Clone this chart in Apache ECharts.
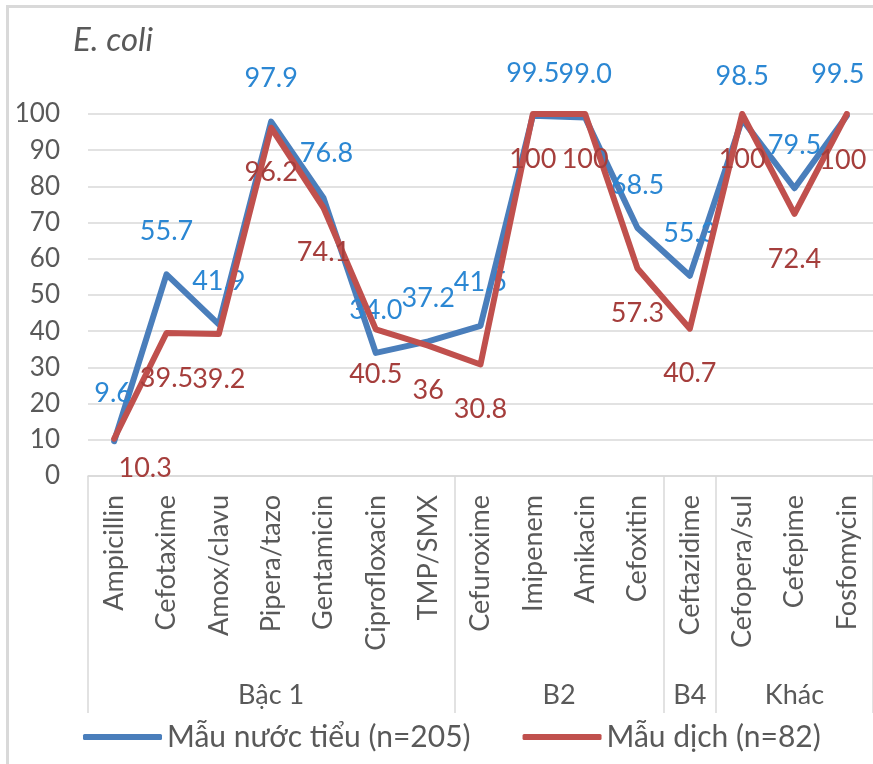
<!DOCTYPE html>
<html>
<head>
<meta charset="utf-8">
<script src="https://cdn.jsdelivr.net/npm/echarts@6/dist/echarts.min.js"></script>
<style>
  html, body { margin: 0; padding: 0; background: #fff; }
  #chart { width: 873px; height: 764px; }
</style>
</head>
<body>
<div id="chart"></div>
<script>
// Antibiotic susceptibility of E. coli (%), two specimen groups
const antibiotics = ['Ampicillin', 'Cefotaxime', 'Amox/clavu', 'Pipera/tazo', 'Gentamicin',
  'Ciprofloxacin', 'TMP/SMX', 'Cefuroxime', 'Imipenem', 'Amikacin', 'Cefoxitin',
  'Ceftazidime', 'Cefopera/sul', 'Cefepime', 'Fosfomycin'];
const urineValues = [9.6, 55.7, 41.9, 97.9, 76.8, 34.0, 37.2, 41.5, 99.5, 99.0, 68.5, 55.3, 98.5, 79.5, 99.5];
const fluidValues = [10.3, 39.5, 39.2, 96.2, 74.1, 40.5, 36, 30.8, 100, 100, 57.3, 40.7, 100, 72.4, 100];
const groupNames = ['Bậc 1', 'B2', 'B4', 'Khác'];
const groupSizes = [7, 4, 1, 3];
const seriesNames = ['Mẫu nước tiểu (n=205)', 'Mẫu dịch (n=82)'];
const yTicks = [0, 10, 20, 30, 40, 50, 60, 70, 80, 90, 100];

const FONT = 'Lato, "Open Sans", sans-serif';
const GREY = '#595959';
const GRID_LINE = '#d9d9d9';

// group boundaries and centres on a 0..N scale (one unit per antibiotic)
const bounds = [0];
groupSizes.forEach(n => bounds.push(bounds[bounds.length - 1] + n));
const centres = groupNames.map((_, i) => (bounds[i] + bounds[i + 1]) / 2);

// label placement: blue above, red below, a few nudged
const urineOffsets = { 0: [-1, -48], 4: [3, -45], 14: [-9, -42] };
const fluidOffsets = { 0: [31, 30], 14: [-4, 46] };

function buildData(values, offsets, defaultOffset) {
  return values.map((v, i) => ({
    value: v,
    label: { offset: offsets[i] || defaultOffset }
  }));
}

const chart = echarts.init(document.getElementById('chart'));
chart.setOption({
  animation: false,
  backgroundColor: '#fff',
  title: {
    text: 'E. coli',
    left: 68, top: 19,
    textStyle: { fontFamily: FONT, fontSize: 33, fontStyle: 'italic', fontWeight: 'normal', color: GREY }
  },
  graphic: [{
    type: 'rect', silent: true, z: -1,
    shape: { x: 7.5, y: 6.5, width: 900, height: 800 },
    style: { fill: 'none', stroke: GRID_LINE, lineWidth: 3 }
  }],
  legend: {
    left: 78, top: 717,
    icon: 'roundRect',
    itemWidth: 79, itemHeight: 6, itemGap: 52,
    textStyle: { fontFamily: FONT, fontSize: 30, color: GREY },
    data: seriesNames
  },
  grid: { left: 88, top: 114, width: 787, height: 362, containLabel: false },
  xAxis: [{
    type: 'category',
    data: antibiotics,
    boundaryGap: true,
    axisLine: { lineStyle: { color: GRID_LINE, width: 1.5 } },
    axisTick: { show: false },
    axisLabel: { interval: 0, rotate: 90, margin: 19, fontFamily: FONT, fontSize: 27, color: GREY }
  }, {
    type: 'value',
    min: 0, max: antibiotics.length,
    position: 'bottom',
    axisLine: { show: false },
    splitLine: { show: false },
    axisTick: { show: true, customValues: bounds, length: 237, lineStyle: { color: GRID_LINE, width: 1.5 } },
    axisLabel: {
      customValues: centres, margin: 206,
      fontFamily: FONT, fontSize: 27, color: GREY,
      formatter: v => groupNames[centres.indexOf(v)] || ''
    }
  }],
  yAxis: {
    type: 'value',
    min: 0, max: 100, interval: 10,
    axisLine: { show: false },
    axisTick: { show: false },
    splitLine: { lineStyle: { color: GRID_LINE, width: 1.5 } },
    axisLabel: {
      margin: 28, fontFamily: FONT, fontSize: 26, color: GREY,
      customValues: yTicks
    }
  },
  series: [{
    name: seriesNames[0],
    type: 'line',
    data: buildData(urineValues, urineOffsets, [0, -43]),
    symbol: 'circle', symbolSize: 2,
    lineStyle: { color: '#4A7EBB', width: 6, join: 'round', cap: 'round' },
    itemStyle: { color: '#4A7EBB' },
    label: {
      show: true, position: 'inside',
      fontFamily: FONT, fontSize: 27, color: '#2B87D3',
      formatter: p => p.value.toFixed(1)
    },
    z: 2
  }, {
    name: seriesNames[1],
    type: 'line',
    data: buildData(fluidValues, fluidOffsets, [0, 45]),
    symbol: 'circle', symbolSize: 2,
    lineStyle: { color: '#C0504D', width: 6, join: 'round', cap: 'round' },
    itemStyle: { color: '#C0504D' },
    label: {
      show: true, position: 'inside',
      fontFamily: FONT, fontSize: 27, color: '#A53E3C',
      formatter: p => String(p.value)
    },
    z: 3
  }]
});
</script>
</body>
</html>
